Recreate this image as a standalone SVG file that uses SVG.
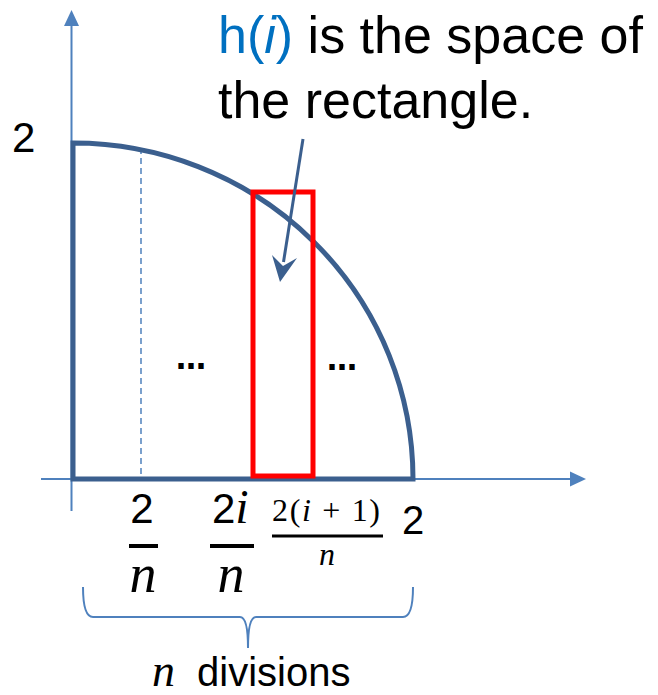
<svg xmlns="http://www.w3.org/2000/svg" width="658" height="695" viewBox="0 0 658 695">
<style>
.axis{stroke:#4f81bd;stroke-width:2;fill:none}
.ahead{fill:#4f81bd}
.shape{stroke:#3b5f8e;stroke-width:5;fill:none}
.sans{font-family:"Liberation Sans",Arial,sans-serif;fill:#000}
.dots{font-family:"DejaVu Sans",sans-serif;font-weight:bold;fill:#000}
.math{font-family:"Liberation Serif","Times New Roman",serif;font-style:italic;fill:#000}
.mathr{font-family:"Liberation Serif","Times New Roman",serif;fill:#000}
.bar{stroke:#000;stroke-width:4}
</style>
<rect width="658" height="695" fill="#fff"/>
<g id="axes">
<line class="axis" x1="71.5" y1="24" x2="71.5" y2="511"/>
<polygon class="ahead" points="71.5,10 79,26 64,26"/>
<line class="axis" x1="41" y1="479" x2="572" y2="479"/>
<polygon class="ahead" points="586,479 570,471.5 570,486.5"/>
</g>
<g id="quarter-circle">
<line x1="141" y1="148" x2="141" y2="478" stroke="#4f81bd" stroke-width="1.5" stroke-dasharray="6,4"/>
<path class="shape" d="M73,479 V143 A340,336 0 0 1 413,479 Z" stroke-linejoin="miter"/>
<text class="dots" x="176" y="369" font-size="32" textLength="30" lengthAdjust="spacingAndGlyphs">…</text>
<text class="dots" x="327" y="370" font-size="32" textLength="30" lengthAdjust="spacingAndGlyphs">…</text>
</g>
<g id="rectangle">
<rect x="253" y="192" width="60" height="284" fill="none" stroke="#ff0000" stroke-width="5"/>
</g>
<g id="label-title">
<text class="sans" x="218" y="53" font-size="52"><tspan fill="#0070c0">h(</tspan><tspan fill="#0070c0" font-style="italic">i</tspan><tspan fill="#0070c0">)</tspan> is the space of</text>
<text class="sans" x="218" y="118" font-size="52">the rectangle.</text>
</g>
<g id="connectors">
<line x1="303" y1="139" x2="283.5" y2="262" stroke="#3b5f8e" stroke-width="3"/>
<polygon points="280,282 272,255 283,266 297,258" fill="#3b5f8e"/>
</g>
<g id="label-y2">
<text class="sans" x="12" y="152" font-size="42">2</text>
</g>
<g id="label-2n">
<text class="sans" x="142" y="523" font-size="42" text-anchor="middle">2</text>
<line class="bar" x1="129" y1="546" x2="158" y2="546"/>
<text class="math" x="143" y="592" font-size="54" text-anchor="middle">n</text>
</g>
<g id="label-2in">
<text x="212" y="523"><tspan class="sans" font-size="42">2</tspan><tspan class="math" font-size="48">i</tspan></text>
<line class="bar" x1="210" y1="546" x2="254" y2="546"/>
<text class="math" x="231" y="592" font-size="54" text-anchor="middle">n</text>
</g>
<g id="label-2i1n">
<text class="mathr" x="272" y="521" font-size="32" textLength="108" lengthAdjust="spacing">2(<tspan font-style="italic">i</tspan> + 1)</text>
<line x1="272" y1="536" x2="383" y2="536" stroke="#000" stroke-width="3"/>
<text class="math" x="327" y="565" font-size="32" text-anchor="middle">n</text>
</g>
<g id="label-x2">
<text class="sans" x="402" y="534" font-size="40">2</text>
</g>
<g id="brace">
<path d="M83,587 Q83,617 93,617 H240 Q248,617 248,648 Q248,617 256,617 H403 Q413,617 413,587" fill="none" stroke="#4f81bd" stroke-width="2"/>
</g>
<g id="label-divisions">
<text x="152" y="686"><tspan class="math" font-size="46">n</tspan><tspan class="sans" font-size="40" x="197">divisions</tspan></text>
</g>
</svg>
